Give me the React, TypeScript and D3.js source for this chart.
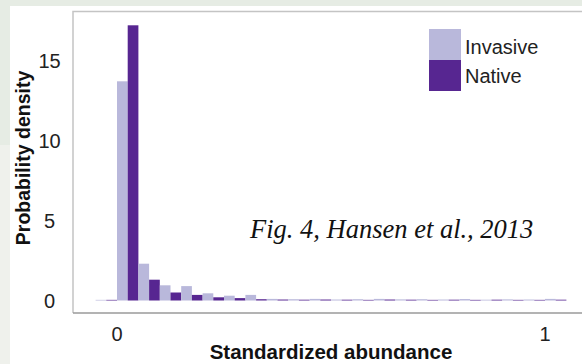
import React from "react";
import * as d3 from "d3";

// Histogram bins (left edges), width 0.05
const binStarts = [-0.05, 0, 0.05, 0.1, 0.15, 0.2, 0.25, 0.3, 0.35, 0.4, 0.45, 0.5, 0.55, 0.6, 0.65, 0.7, 0.75, 0.8, 0.85, 0.9, 0.95, 1.0];
const invasive = [0.04, 13.7, 2.3, 0.95, 0.9, 0.45, 0.3, 0.35, 0.1, 0.08, 0.1, 0.06, 0.08, 0.1, 0.07, 0.08, 0.06, 0.09, 0.05, 0.07, 0.06, 0.1];
const native = [0.04, 17.2, 1.3, 0.5, 0.35, 0.2, 0.15, 0.08, 0.06, 0.05, 0.06, 0.05, 0.04, 0.06, 0.05, 0.04, 0.05, 0.04, 0.05, 0.04, 0.04, 0.05];
const binWidth = 0.05;
const yTicks = [0, 5, 10, 15];
const xTicks = [0, 1];
const seriesNames = ["Invasive", "Native"];
const colors = ["#b9b8db", "#572691"];

export default function App() {
  const W = 582, H = 364;
  const x = d3.scaleLinear().domain([0, 1]).range([117, 545]);
  const y = d3.scaleLinear().domain([0, 15]).range([300.5, 60.5]);
  const sans = "'Liberation Sans', Arial, sans-serif";

  return (
    <svg width={W} height={H} style={{ position: "fixed", left: 0, top: 0 }}>
      <rect x={0} y={0} width={W} height={H} fill="#e6ece4" />
      <rect x={0} y={145} width={10} height={H - 145} fill="#eff1ec" />
      <rect x={10} y={6} width={W - 10} height={H - 6} fill="#ffffff" />
      {/* frame */}
      <path d={`M73,313 L73,11.5 L${W},11.5`} fill="none" stroke="#c4c4c4" strokeWidth={1.5} />
      <line x1={73} x2={W} y1={313} y2={313} stroke="#9a9a9a" strokeWidth={1.5} />

      {/* bars */}
      {binStarts.map((b, i) => {
        const x0 = x(b), x1 = x(b + binWidth), xm = (x0 + x1) / 2;
        return (
          <g key={i}>
            <rect x={x0} width={xm - x0} y={y(invasive[i])} height={y(0) - y(invasive[i])} fill={colors[0]} />
            <rect x={xm} width={x1 - xm} y={y(native[i])} height={y(0) - y(native[i])} fill={colors[1]} />
          </g>
        );
      })}

      {/* y ticks */}
      {yTicks.map((t) => (
        <text key={t} x={49.5} y={y(t)} dy="0.35em" textAnchor="middle" fontFamily={sans} fontSize={20} fill="#222">
          {t}
        </text>
      ))}
      {/* x ticks */}
      {xTicks.map((t) => (
        <text key={t} x={x(t)} y={341} textAnchor="middle" fontFamily={sans} fontSize={20} fill="#222">
          {t}
        </text>
      ))}

      <text transform="translate(30,158) rotate(-90)" textAnchor="middle" fontFamily={sans} fontSize={19.5} fontWeight="bold" fill="#111">
        Probability density
      </text>
      <text x={331} y={359} textAnchor="middle" fontFamily={sans} fontSize={20.5} fontWeight="bold" fill="#111">
        Standardized abundance
      </text>

      {/* legend */}
      {seriesNames.map((n, i) => (
        <g key={n}>
          <rect x={429} y={29 + i * 31} width={32} height={31} fill={colors[i]} />
          <text x={465} y={54 + i * 29} fontFamily={sans} fontSize={20} fill="#222">
            {n}
          </text>
        </g>
      ))}

      <text x={250} y={238} fontFamily="'Liberation Serif', 'Times New Roman', serif" fontStyle="italic" fontSize={26.5} fill="#111">
        Fig. 4, Hansen et al., 2013
      </text>
    </svg>
  );
}
